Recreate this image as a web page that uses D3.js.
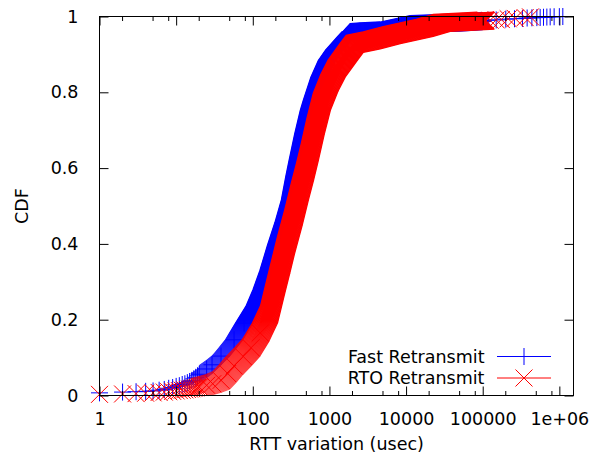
<!DOCTYPE html>
<html><head><meta charset="utf-8">
<script src="https://cdn.jsdelivr.net/npm/d3@7"></script>
<style>
body{margin:0;background:#fff}
svg{display:block}
text{font-family:"DejaVu Sans",sans-serif;fill:#000}
</style>
</head><body>
<svg id="chart" width="592" height="456"></svg>
<script>
// ---------- data ----------
const xTickValues = [1, 10, 100, 1000, 10000, 100000, 1000000];
const xTickLabels = ["1", "10", "100", "1000", "10000", "100000", "1e+06"];
const xMinorFactors = [2, 5, 8];
const yTickValues = [0, 0.2, 0.4, 0.6, 0.8, 1];
const yTickLabels = ["0", "0.2", "0.4", "0.6", "0.8", "1"];
const seriesNames = ["Fast Retransmit", "RTO Retransmit"];
const xTitle = "RTT variation (usec)";
const yTitle = "CDF";

// Fast Retransmit: sparse samples at small values
const fastLowX   = [1, 2, 3, 4, 5, 6, 7, 8, 9, 10, 11, 12, 13, 14, 15, 16, 17, 18, 19];
const fastLowCDF = [0.007, 0.009, 0.010, 0.011, 0.012, 0.014, 0.016, 0.019, 0.021, 0.024,
                    0.026, 0.029, 0.031, 0.034, 0.037, 0.040, 0.044, 0.048, 0.052];
// Fast Retransmit: dense part of the CDF
const fastX   = [20, 25, 29.4, 38.5, 57, 77, 105, 130, 160, 200, 250, 305, 350, 385, 455, 539,
                 590, 740, 925, 1150, 1636, 1870, 2500, 4610, 11300, 20700, 50000, 100000];
const fastCDF = [0.056, 0.070, 0.081, 0.104, 0.147, 0.191, 0.235, 0.279, 0.330, 0.395,
                 0.455, 0.516, 0.580, 0.621, 0.690, 0.753, 0.779, 0.840, 0.884, 0.911, 0.946, 0.959,
                 0.961, 0.963, 0.980, 0.982, 0.984, 0.988];
// Fast Retransmit: sparse tail samples
const fastTailX   = [120000, 150000, 200000, 260000, 330000, 380000, 438000, 509000, 562000,
                     621000, 687000, 759000, 855000, 1000000, 1110000];
const fastTailCDF = [0.990, 0.991, 0.993, 0.994, 0.995, 0.996, 0.9965, 0.997, 0.9975,
                     0.998, 0.9985, 0.999, 0.9993, 0.9996, 1.0];

// RTO Retransmit: sparse samples at small values
const rtoLowX   = [1, 2, 3, 4, 5, 6, 7, 8, 9, 10, 11, 12, 13, 14, 15, 16, 17, 18, 19];
const rtoLowCDF = [0.003, 0.004, 0.005, 0.006, 0.007, 0.008, 0.009, 0.010, 0.011, 0.012,
                   0.013, 0.014, 0.015, 0.016, 0.017, 0.018, 0.019, 0.020, 0.021];
// RTO Retransmit: dense part of the CDF
const rtoX   = [20, 25, 30, 38.6, 47, 57, 75, 95, 125, 163, 201, 235, 270, 340, 411, 480, 555, 660,
                796, 1000, 1248, 1790, 2140, 3570, 6510, 17500, 29200, 71900, 110000];
const rtoCDF = [0.022, 0.027, 0.031, 0.040, 0.058, 0.078, 0.103, 0.126, 0.165, 0.214, 0.290, 0.345,
                0.395, 0.470, 0.538, 0.590, 0.643, 0.710, 0.775, 0.825, 0.863, 0.907, 0.928, 0.937,
                0.951, 0.970, 0.983, 0.987, 0.989];
// RTO Retransmit: sparse tail samples
const rtoTailX   = [125000, 150000, 175000, 215000, 265000, 358000, 420000];
const rtoTailCDF = [0.990, 0.991, 0.992, 0.994, 0.995, 0.997, 0.999];

const xDomain = [1, 1.53e6];
const yDomain = [0, 1];

// ---------- layout ----------
const svg = d3.select("#chart");
const L = 99.5, R = 573.5, T = 16.5, B = 395.5;
const x = d3.scaleLog().domain(xDomain).range([L, R]);
const y = d3.scaleLinear().domain(yDomain).range([B, T]);
const FS = 17.5;
const MS = 8.5; // marker half size
const plusPath = `M${-MS},0H${MS}M0,${-MS}V${MS}`;
const crossPath = `M${-MS},${-MS}L${MS},${MS}M${-MS},${MS}L${MS},${-MS}`;
const BLUE = "#0000ff", RED = "#ff0000";

const zip = (xs, ys) => xs.map((v, i) => [v, ys[i]]);

// mask: the overlapping markers look lighter (hatched) where the curve is shallow near the bottom
const defs = svg.append("defs");
const grad = defs.append("linearGradient").attr("id", "fadeGrad")
  .attr("gradientUnits", "userSpaceOnUse").attr("x1", 0).attr("x2", 0)
  .attr("y1", y(0)).attr("y2", y(0.2));
grad.append("stop").attr("offset", 0).attr("stop-color", "#a0a0a0");
grad.append("stop").attr("offset", 1).attr("stop-color", "#ffffff");
defs.append("mask").attr("id", "fadeMask").attr("maskUnits", "userSpaceOnUse")
  .attr("x", 0).attr("y", 0).attr("width", 592).attr("height", 456)
  .append("rect").attr("x", 0).attr("y", 0).attr("width", 592).attr("height", 456)
  .attr("fill", "url(#fadeGrad)");

// ---------- series ----------
const line = d3.line().x(d => x(d[0])).y(d => y(d[1]));

function drawSeries(lowX, lowY, denseX, denseY, tailX, tailY, color, shape) {
  const g = svg.append("g");
  const dense = zip(denseX, denseY);
  const offsets = [];
  for (let t = -MS; t <= MS + 1e-9; t += 0.5) {
    if (shape === "plus") { offsets.push([t, 0]); offsets.push([0, t]); }
    else { offsets.push([t, t]); offsets.push([t, -t]); }
  }
  g.append("g").attr("mask", "url(#fadeMask)")
    .selectAll("path.band").data(offsets).join("path")
    .attr("class", "band")
    .attr("d", line(dense))
    .attr("transform", d => `translate(${d[0]},${d[1]})`)
    .attr("fill", "none").attr("stroke", color).attr("stroke-width", 1.3);
  const pts = zip(lowX, lowY).concat(dense, zip(tailX, tailY));
  g.selectAll("path.mk").data(pts).join("path")
    .attr("class", "mk")
    .attr("d", shape === "plus" ? plusPath : crossPath)
    .attr("transform", d => `translate(${x(d[0])},${y(d[1])})`)
    .attr("fill", "none").attr("stroke", color).attr("stroke-width", 1);
}

drawSeries(fastLowX, fastLowCDF, fastX, fastCDF, fastTailX, fastTailCDF, BLUE, "plus");
drawSeries(rtoLowX, rtoLowCDF, rtoX, rtoCDF, rtoTailX, rtoTailCDF, RED, "cross");

// ---------- axes / border ----------
const axG = svg.append("g").attr("stroke", "#000").attr("stroke-width", 1);
const MAJ = 9, MIN = 4.5;
const minorVals = [];
xTickValues.forEach(v => xMinorFactors.forEach(f => { const m = v * f; if (m <= xDomain[1]) minorVals.push(m); }));
const xAxisB = d3.axisBottom(x).tickValues(xTickValues).tickFormat((d, i) => xTickLabels[i]).tickSizeInner(-MAJ).tickSizeOuter(0).tickPadding(17);
const gxb = svg.append("g").attr("transform", `translate(0,${B})`).call(xAxisB);
gxb.select(".domain").remove();
gxb.selectAll("text").attr("font-size", FS).attr("font-family", "DejaVu Sans, sans-serif").attr("fill", "#000").attr("dy", "0.7em");
const xAxisT = d3.axisTop(x).tickValues(xTickValues).tickFormat("").tickSizeInner(-MAJ).tickSizeOuter(0);
const gxt = svg.append("g").attr("transform", `translate(0,${T})`).call(xAxisT);
gxt.select(".domain").remove();
[[B, -1], [T, 1]].forEach(([yy, dir]) => {
  axG.selectAll(null).data(minorVals).join("line")
    .attr("x1", d => x(d)).attr("x2", d => x(d))
    .attr("y1", yy).attr("y2", yy + dir * MIN);
});
const yAxisL = d3.axisLeft(y).tickValues(yTickValues).tickFormat((d, i) => yTickLabels[i]).tickSizeInner(-MAJ).tickSizeOuter(0).tickPadding(21);
const gyl = svg.append("g").attr("transform", `translate(${L},0)`).call(yAxisL);
gyl.select(".domain").remove();
gyl.selectAll("text").attr("font-size", FS).attr("font-family", "DejaVu Sans, sans-serif").attr("fill", "#000");
const yAxisR = d3.axisRight(y).tickValues(yTickValues).tickFormat("").tickSizeInner(-MAJ).tickSizeOuter(0);
const gyr = svg.append("g").attr("transform", `translate(${R},0)`).call(yAxisR);
gyr.select(".domain").remove();
svg.selectAll(".tick line").attr("stroke", "#000");
svg.append("rect").attr("x", L).attr("y", T).attr("width", R - L).attr("height", B - T)
  .attr("fill", "none").attr("stroke", "#000").attr("stroke-width", 1);

// ---------- titles ----------
svg.append("text").attr("x", (L + R) / 2).attr("y", 450).attr("text-anchor", "middle")
  .attr("font-size", FS).text(xTitle);
svg.append("text").attr("transform", `translate(27.5,${(T + B) / 2}) rotate(-90)`)
  .attr("text-anchor", "middle").attr("font-size", FS).text(yTitle);

// ---------- legend ----------
const legend = [
  {name: seriesNames[0], color: BLUE, shape: plusPath, y: 356.5},
  {name: seriesNames[1], color: RED, shape: crossPath, y: 378}
];
const lg = svg.append("g");
legend.forEach(d => {
  lg.append("text").attr("x", 484.5).attr("y", d.y).attr("dy", "0.35em")
    .attr("text-anchor", "end").attr("font-size", FS).text(d.name);
  lg.append("line").attr("x1", 497).attr("x2", 551).attr("y1", d.y).attr("y2", d.y)
    .attr("stroke", d.color).attr("stroke-width", 1);
  lg.append("path").attr("d", d.shape).attr("transform", `translate(524,${d.y})`)
    .attr("fill", "none").attr("stroke", d.color).attr("stroke-width", 1);
});
</script>
</body></html>
